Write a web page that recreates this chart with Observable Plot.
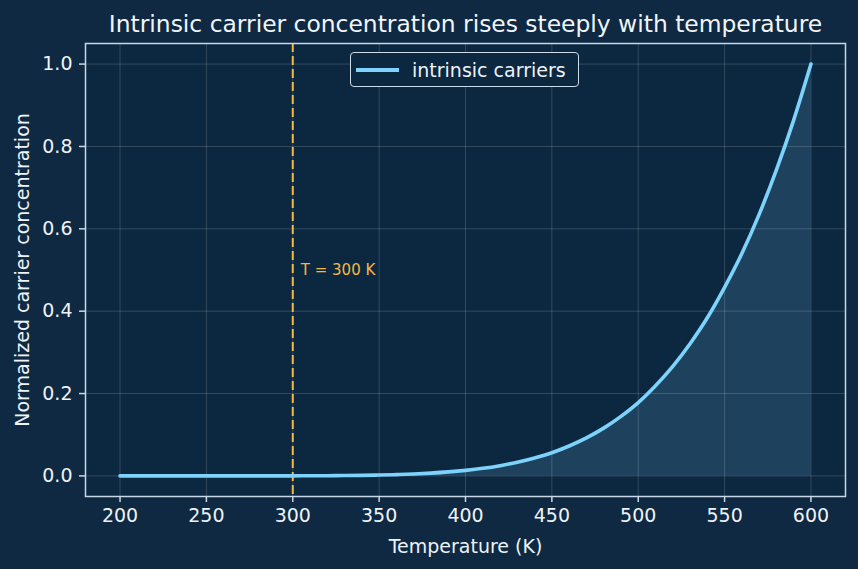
<!DOCTYPE html>
<html>
<head>
<meta charset="utf-8">
<script src="https://cdn.jsdelivr.net/npm/d3@7"></script>
<script src="https://cdn.jsdelivr.net/npm/@observablehq/plot@0.6"></script>
<style>
  html, body { margin: 0; padding: 0; background: #0e2941; }
  #chart { position: relative; width: 858px; height: 569px; }
  #legend {
    position: absolute; left: 350px; top: 52px; width: 229px; height: 35px;
    box-sizing: border-box; border: 1.5px solid #cfdbe6; border-radius: 4px;
    background: #0c2740; display: flex; align-items: center;
    font-family: "DejaVu Sans", sans-serif; font-size: 19px; color: #eef3f8;
  }
  #legend .swatch { width: 43px; height: 4px; margin-left: 5px; background: #7dd3fc; }
  #legend .name { margin-left: 13px; }
</style>
</head>
<body>
<div id="chart"></div>
<script>
// Temperature grid (K) and normalized intrinsic carrier concentration
const temperatures = [200, 210, 220, 230, 240, 250, 260, 270, 280, 290,
  300, 310, 320, 330, 340, 350, 360, 370, 380, 390,
  400, 410, 420, 430, 440, 450, 460, 470, 480, 490,
  500, 510, 520, 530, 540, 550, 560, 570, 580, 590, 600];
const concentration = [0, 0, 0, 0, 0.000002, 0.000006, 0.000013, 0.000027, 0.000053, 0.0001,
  0.00018, 0.00032, 0.00053, 0.00087, 0.00137, 0.0021, 0.0032, 0.0047, 0.0068, 0.0097,
  0.0135, 0.0184, 0.0249, 0.0332, 0.0436, 0.0563, 0.0726, 0.0923, 0.116, 0.1445,
  0.178, 0.219, 0.266, 0.321, 0.384, 0.458, 0.540, 0.635, 0.743, 0.864, 1.0];

const xTicks = [200, 250, 300, 350, 400, 450, 500, 550, 600];
const yTicks = [0, 0.2, 0.4, 0.6, 0.8, 1.0];
const referenceT = 300;
const seriesName = "intrinsic carriers";
const title = "Intrinsic carrier concentration rises steeply with temperature";
const xLabel = "Temperature (K)";
const yLabel = "Normalized carrier concentration";

const data = temperatures.map((T, i) => ({T, n: concentration[i]}));

const lineColor = "#7dd3fc";
const refColor = "#f5b841";
const textColor = "#eef3f8";

const chart = Plot.plot({
  width: 858,
  height: 569,
  marginLeft: 85,
  marginRight: 13,
  marginTop: 43,
  marginBottom: 73,
  style: {
    fontFamily: "DejaVu Sans, sans-serif",
    fontSize: "19px",
    color: textColor,
    background: "#0e2941"
  },
  x: {domain: [180, 620], axis: null},
  y: {domain: [-0.05, 1.05], axis: null},
  marks: [
    Plot.frame({fill: "#0c2740", stroke: null}),
    Plot.areaY(data, {x: "T", y: "n", fill: lineColor, fillOpacity: 0.16, curve: "monotone-x"}),
    Plot.gridX(xTicks, {stroke: "#ffffff", strokeOpacity: 0.16, strokeWidth: 1}),
    Plot.gridY(yTicks, {stroke: "#ffffff", strokeOpacity: 0.16, strokeWidth: 1}),
    Plot.ruleX([referenceT], {stroke: refColor, strokeWidth: 2, strokeDasharray: "9,4"}),
    Plot.text([{T: referenceT, y: 0.5, label: `T = ${referenceT} K`}], {
      x: "T", y: "y", text: "label", dx: 8, textAnchor: "start",
      fill: refColor, fontSize: 15
    }),
    Plot.line(data, {x: "T", y: "n", stroke: lineColor, strokeWidth: 3.6, curve: "monotone-x"}),
    Plot.frame({stroke: "#c8d8e6", strokeWidth: 1.5}),
    Plot.axisX(xTicks, {
      tickSize: 6, tickPadding: 6, stroke: "#c8d8e6", strokeWidth: 1.5,
      fill: textColor, fontSize: 19, label: null, tickFormat: d => String(d)
    }),
    Plot.axisY(yTicks, {
      tickSize: 6, tickPadding: 7, stroke: "#c8d8e6", strokeWidth: 1.5,
      fill: textColor, fontSize: 19, label: null, tickFormat: d3.format(".1f")
    }),
    Plot.text([title], {
      text: d => d, frameAnchor: "top", lineAnchor: "middle", dy: -19,
      fontSize: 23.4, fill: "#f2f5f8"
    }),
    Plot.text([xLabel], {
      text: d => d, frameAnchor: "bottom", lineAnchor: "middle", dy: 50,
      fontSize: 19, fill: textColor
    }),
    Plot.text([yLabel], {
      text: d => d, frameAnchor: "left", textAnchor: "middle", lineAnchor: "middle",
      dx: -63, rotate: -90, fontSize: 19, fill: textColor
    })
  ]
});

const holder = document.getElementById("chart");
holder.appendChild(chart);

// legend box for the single series
const legend = document.createElement("div");
legend.id = "legend";
legend.innerHTML = `<span class="swatch"></span><span class="name">${seriesName}</span>`;
holder.appendChild(legend);
</script>
</body>
</html>
